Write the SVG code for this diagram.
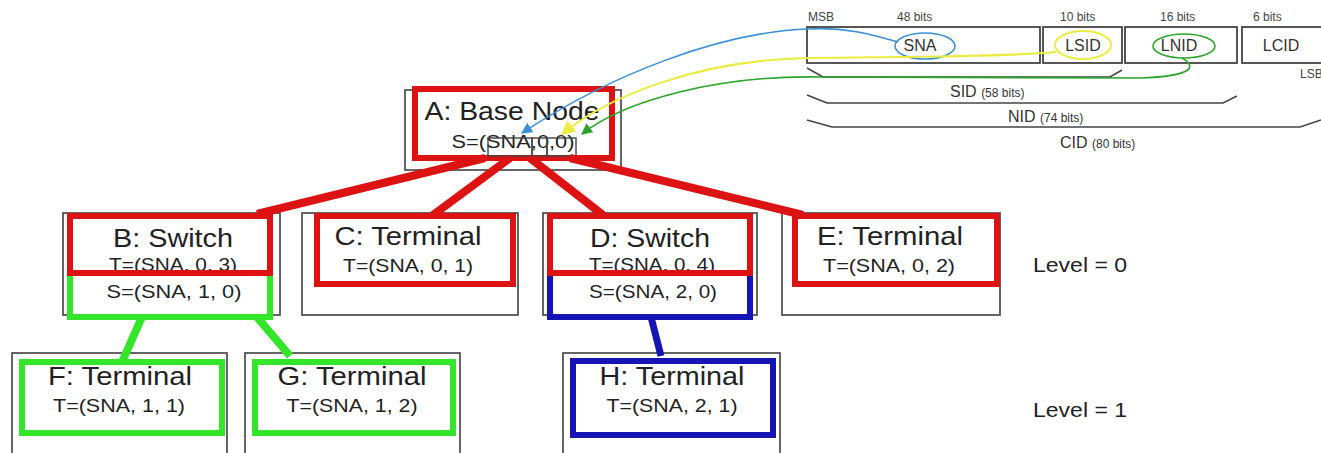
<svg xmlns="http://www.w3.org/2000/svg" width="1321" height="453" viewBox="0 0 1321 453">
<style>
text{font-family:"Liberation Sans",Arial,sans-serif;fill:#222}
.outer{fill:#fff;stroke:#555;stroke-width:1.8}
.red{fill:none;stroke:#dd1212;stroke-width:6}
.grn{fill:none;stroke:#33e62a;stroke-width:6}
.blu{fill:none;stroke:#1515b5;stroke-width:6}
.t{font-size:25px;text-anchor:middle}
.s{font-size:18px;text-anchor:middle}
.lvl{font-size:20px}
.bf{fill:#fff;stroke:#444;stroke-width:1.8}
.bl{font-size:12px;fill:#444}
.bt{font-size:16px;text-anchor:middle;fill:#333}
.brace{fill:none;stroke:#444;stroke-width:1.6}
.rl{stroke:#dd1212;stroke-width:8;fill:none}
.gl{stroke:#33e62a;stroke-width:8;fill:none}
.bll{stroke:#1515b5;stroke-width:7;fill:none}
</style>
<defs>
<marker id="ab" viewBox="0 0 10 10" refX="9" refY="5" markerWidth="7" markerHeight="7" orient="auto"><path d="M0,0 L10,5 L0,10 z" fill="#3a8fd8"/></marker>
<marker id="ay" viewBox="0 0 10 10" refX="9" refY="5" markerWidth="7" markerHeight="7" orient="auto"><path d="M0,0 L10,5 L0,10 z" fill="#ecec40"/></marker>
<marker id="ag" viewBox="0 0 10 10" refX="9" refY="5" markerWidth="7" markerHeight="7" orient="auto"><path d="M0,0 L10,5 L0,10 z" fill="#2aa52a"/></marker>
</defs>
<rect width="1321" height="453" fill="#fff"/>

<g id="nodeA">
<rect class="outer" x="405" y="90" width="216" height="80"/>
<rect class="red" x="415" y="89" width="197" height="69"/>
<text class="t" x="512" y="120" textLength="175" lengthAdjust="spacingAndGlyphs">A: Base Node</text>
<text class="s" x="513" y="148" textLength="123" lengthAdjust="spacingAndGlyphs">S=(SNA,0,0)</text>
<rect x="488" y="138" width="44" height="18" fill="none" stroke="#444" stroke-width="1.4"/>
<rect x="532" y="138" width="15" height="18" fill="none" stroke="#444" stroke-width="1.4"/>
<rect x="547" y="138" width="29" height="18" fill="none" stroke="#444" stroke-width="1.4"/>
</g>

<g id="nodeB">
<rect class="outer" x="63" y="213" width="217" height="102"/>
<text class="t" x="173" y="247" textLength="120" lengthAdjust="spacingAndGlyphs">B: Switch</text>
<text class="s" x="173" y="271" textLength="128" lengthAdjust="spacingAndGlyphs">T=(SNA, 0, 3)</text>
<text class="s" x="174" y="298" textLength="135" lengthAdjust="spacingAndGlyphs">S=(SNA, 1, 0)</text>
<rect class="grn" x="70" y="273" width="200" height="44"/>
<rect class="red" x="70" y="216" width="200" height="57"/>
</g>

<g id="nodeC">
<rect class="outer" x="302" y="213" width="216" height="102"/>
<rect class="red" x="317" y="216" width="196" height="68"/>
<text class="t" x="408" y="245" textLength="147" lengthAdjust="spacingAndGlyphs">C: Terminal</text>
<text class="s" x="408" y="272" textLength="130" lengthAdjust="spacingAndGlyphs">T=(SNA, 0, 1)</text>
</g>

<g id="nodeD">
<rect class="outer" x="543" y="213" width="214" height="102"/>
<text class="t" x="650" y="247" textLength="120" lengthAdjust="spacingAndGlyphs">D: Switch</text>
<text class="s" x="652" y="271" textLength="126" lengthAdjust="spacingAndGlyphs">T=(SNA, 0, 4)</text>
<text class="s" x="653" y="298" textLength="128" lengthAdjust="spacingAndGlyphs">S=(SNA, 2, 0)</text>
<rect class="blu" x="550" y="273" width="200" height="44"/>
<rect class="red" x="550" y="216" width="200" height="57"/>
</g>

<g id="nodeE">
<rect class="outer" x="782" y="213" width="218" height="102"/>
<rect class="red" x="795" y="216" width="202" height="68"/>
<text class="t" x="890" y="245" textLength="146" lengthAdjust="spacingAndGlyphs">E: Terminal</text>
<text class="s" x="889" y="272" textLength="132" lengthAdjust="spacingAndGlyphs">T=(SNA, 0, 2)</text>
</g>

<g id="nodeF">
<rect class="outer" x="12" y="353" width="215" height="110"/>
<rect class="grn" x="22" y="362" width="200" height="71"/>
<text class="t" x="120" y="385" textLength="144" lengthAdjust="spacingAndGlyphs">F: Terminal</text>
<text class="s" x="119" y="412" textLength="132" lengthAdjust="spacingAndGlyphs">T=(SNA, 1, 1)</text>
</g>

<g id="nodeG">
<rect class="outer" x="245" y="353" width="215" height="110"/>
<rect class="grn" x="255" y="362" width="198" height="71"/>
<text class="t" x="352" y="385" textLength="149" lengthAdjust="spacingAndGlyphs">G: Terminal</text>
<text class="s" x="352" y="412" textLength="131" lengthAdjust="spacingAndGlyphs">T=(SNA, 1, 2)</text>
</g>

<g id="nodeH">
<rect class="outer" x="563" y="353" width="217" height="110"/>
<rect class="blu" x="573" y="361" width="200" height="74"/>
<text class="t" x="672" y="385" textLength="145" lengthAdjust="spacingAndGlyphs">H: Terminal</text>
<text class="s" x="672" y="412" textLength="131" lengthAdjust="spacingAndGlyphs">T=(SNA, 2, 1)</text>
</g>

<g id="levels">
<text class="lvl" x="1033" y="272" textLength="94" lengthAdjust="spacingAndGlyphs">Level = 0</text>
<text class="lvl" x="1033" y="417" textLength="94" lengthAdjust="spacingAndGlyphs">Level = 1</text>
</g>

<g id="bitfield">
<text class="bl" x="808" y="21">MSB</text>
<text class="bl" x="897" y="21">48 bits</text>
<text class="bl" x="1060" y="21">10 bits</text>
<text class="bl" x="1160" y="21">16 bits</text>
<text class="bl" x="1253" y="21">6 bits</text>
<rect class="bf" x="807" y="27" width="233" height="36"/>
<rect class="bf" x="1043" y="27" width="79" height="36"/>
<rect class="bf" x="1125" y="27" width="112" height="36"/>
<rect class="bf" x="1242" y="27" width="80" height="36"/>
<text class="bt" x="920" y="51">SNA</text>
<text class="bt" x="1083" y="51">LSID</text>
<text class="bt" x="1179" y="51">LNID</text>
<text class="bt" x="1281" y="51">LCID</text>
<text class="bl" x="1300" y="78">LSB</text>
<ellipse cx="925" cy="46" rx="30" ry="13" fill="none" stroke="#3a8fd8" stroke-width="1.6"/>
<ellipse cx="1083" cy="45" rx="28" ry="14" fill="none" stroke="#ecec40" stroke-width="2"/>
<ellipse cx="1184" cy="46" rx="31" ry="12" fill="none" stroke="#2aa52a" stroke-width="1.6"/>
<path class="brace" d="M807,68 L823,77 L1110,77 L1122,70"/>
<path class="brace" d="M807,95 L827,103 L1223,103 L1237,96"/>
<path class="brace" d="M807,120 L832,127 L1300,127 L1321,120"/>
<text x="950" y="97" style="font-size:16px;fill:#333">SID <tspan style="font-size:12px">(58 bits)</tspan></text>
<text x="1008" y="122" style="font-size:16px;fill:#333">NID <tspan style="font-size:12px">(74 bits)</tspan></text>
<text x="1060" y="148" style="font-size:16px;fill:#333">CID <tspan style="font-size:12px">(80 bits)</tspan></text>
</g>

<g id="connectors">
<line class="rl" x1="485" y1="158" x2="257" y2="214"/>
<line class="rl" x1="510" y1="158" x2="433" y2="215"/>
<line class="rl" x1="530" y1="158" x2="603" y2="215"/>
<line class="rl" x1="570" y1="158" x2="803" y2="215"/>
<line class="gl" x1="142" y1="317" x2="122" y2="362"/>
<line class="gl" x1="257" y1="317" x2="290" y2="356"/>
<line class="bll" x1="651" y1="317" x2="661" y2="356"/>
<path d="M898,42 C870,34 845,27 808,29 C720,32 610,75 522,133" fill="none" stroke="#3a8fd8" stroke-width="1.6" marker-end="url(#ab)"/>
<path d="M1056,52 C1000,57 900,57 808,58 C700,60 610,95 562,134" fill="none" stroke="#ecec40" stroke-width="2" marker-end="url(#ay)"/>
<path d="M1182,58 C1196,66 1196,76 1140,78 L820,77 C720,75 625,100 582,134" fill="none" stroke="#2aa52a" stroke-width="1.6" marker-end="url(#ag)"/>
</g>
</svg>
